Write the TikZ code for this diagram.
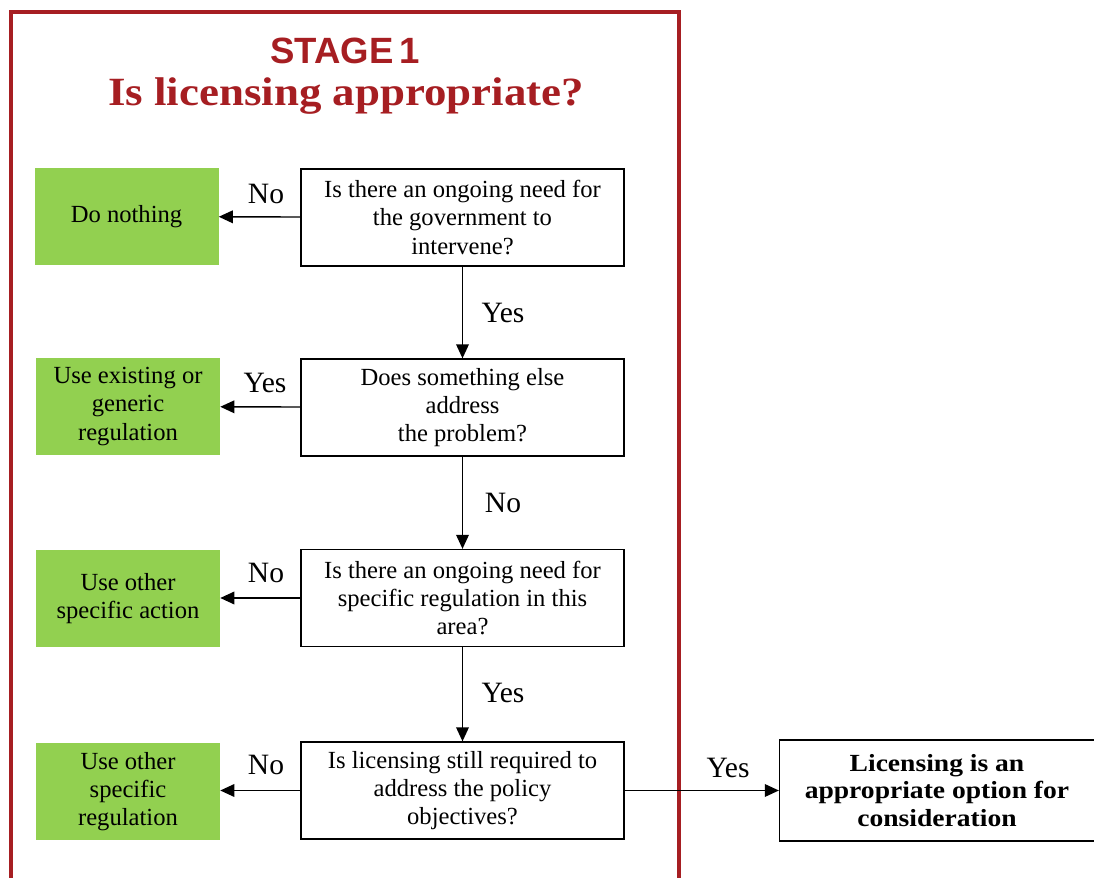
\documentclass[tikz,border=0pt]{standalone}
\usepackage{fontspec}
\setmainfont{Liberation Serif}
\setsansfont{Liberation Sans}
\newfontfamily\headingfont[FakeStretch=1.12]{Liberation Serif}
\usetikzlibrary{arrows.meta}
\definecolor{stagered}{HTML}{A61E22}
\definecolor{leafgreen}{HTML}{92D050}
\begin{document}
\begin{tikzpicture}[x=0.025cm,y=-0.025cm,
  question/.style={draw=black,line width=0.9pt,fill=white,minimum width=323*0.025cm,
    minimum height=97*0.025cm,align=center,inner sep=0pt,
    font=\fontsize{17.5}{20}\selectfont},
  outcome/.style={fill=leafgreen,draw=none,minimum width=184*0.025cm,
    minimum height=97*0.025cm,align=center,inner sep=0pt,
    font=\fontsize{17.5}{20}\selectfont},
  verdict/.style={draw=black,line width=0.9pt,fill=white,minimum width=315*0.025cm,
    minimum height=101*0.025cm,align=center,inner sep=0pt,
    font=\headingfont\bfseries\fontsize{17.5}{19.5}\selectfont},
  flow/.style={-{Triangle[length=10pt,width=9pt]},line width=1pt},
  answer/.style={font=\fontsize{21}{24}\selectfont,inner sep=0pt}]
\useasboundingbox (0,0) rectangle (1094,878);

% stage frame, open at the bottom
\draw[stagered,line width=2.2pt] (11,890) -- (11,12) -- (679,12) -- (679,890);

% titles
\node[text=stagered,font=\sffamily\bfseries\fontsize{26}{30}\selectfont,inner sep=0pt] (stage) at (345,51) {STAGE\,1};
\node[text=stagered,font=\headingfont\bfseries\fontsize{28.5}{30}\selectfont,inner sep=0pt] (heading) at (346,96) {Is licensing appropriate?};

% questions
\node[question] (q1) at (462.5,217.5) {Is there an ongoing need for\\ the government to\\ intervene?};
\node[question] (q2) at (462.5,407.5) {Does something else\\ address\\ the problem?};
\node[question] (q3) at (462.5,598) {Is there an ongoing need for\\ specific regulation in this\\ area?};
\node[question] (q4) at (462.5,790.5) {Is licensing still required to\\ address the policy\\ objectives?};

% outcomes
\node[outcome] (o1) at (126.5,216.5) {Do nothing};
\node[outcome] (o2) at (128,406.5) {Use existing or\\ generic\\ regulation};
\node[outcome] (o3) at (128,599) {Use other\\ specific action};
\node[outcome] (o4) at (128,791.5) {Use other\\ specific\\ regulation};

\node[verdict] (ok) at (937,790.5) {Licensing is an\\ appropriate option for\\ consideration};

% connectors
\draw[flow] (q1) -- (o1);
\draw[flow] (q2) -- (o2);
\draw[flow] (q3.west) -- (o3.east |- q3.west);
\draw[flow] (q4.west) -- (o4.east |- q4.west);
\draw[flow] (q1) -- (q2);
\draw[flow] (q2) -- (q3);
\draw[flow] (q3) -- (q4);
\draw[flow] (q4) -- (ok);

% answers
\node[answer] (a1) at (266,194) {No};
\node[answer] (a2) at (503,313) {Yes};
\node[answer] (a3) at (265,383) {Yes};
\node[answer] (a4) at (503,503) {No};
\node[answer] (a5) at (266,573) {No};
\node[answer] (a6) at (503,693) {Yes};
\node[answer] (a7) at (266,765) {No};
\node[answer] (a8) at (728,768) {Yes};
\end{tikzpicture}
\end{document}
